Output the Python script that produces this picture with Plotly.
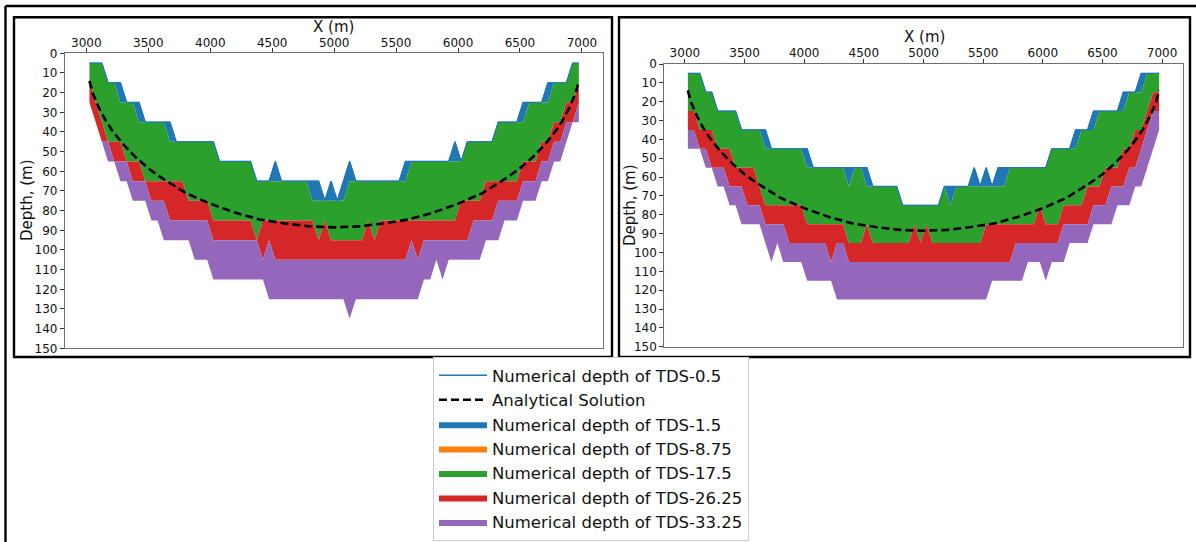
import plotly.graph_objects as go

# ---------------- data ----------------
# x positions of the model cell centres (m)
X_CELLS = list(range(3025, 7000, 50))

# Left panel: depth (m) of each TDS iso-line at every cell
L_TDS_0_5 = ([5]*3 + [15]*3 + [25]*3 + [35]*5 + [45]*7 + [55]*6 + [65]*3 + [55] + [65]*7 +
             [75] + [65] + [75] + [65] + [55] + [65]*8 + [55]*8 + [45] + [55] + [45]*5 +
             [35]*4 + [25]*4 + [15]*4 + [5]*2)
L_TDS_1_5 = ([5]*3 + [15]*2 + [25]*3 + [35]*5 + [45]*8 + [55]*6 + [65]*9 + [75]*6 +
             [65]*10 + [55]*9 + [45]*5 + [35]*5 + [25]*4 + [15]*3 + [5]*2)
L_TDS_8_75 = list(L_TDS_1_5)
L_TDS_17_5 = ([15] + [25] + [35] + [45]*3 + [55]*3 + [65]*7 + [75]*4 + [85]*7 + [95] + [85]*9 +
              [95] + [85] + [95]*6 + [85] + [95] + [85]*13 + [75]*4 + [65]*6 + [55]*3 +
              [45]*2 + [35]*2 + [25]*2 + [15])
L_TDS_26_25 = ([25] + [35] + [45]*2 + [55]*3 + [65]*3 + [75]*3 + [85]*7 + [95]*8 + [105] + [95] +
               [105]*22 + [95] + [105] + [95]*8 + [85]*4 + [75]*4 + [65]*3 + [55]*2 + [45]*2 +
               [35]*2 + [25])
L_TDS_33_25 = ([25] + [35] + [45] + [55]*2 + [65]*2 + [75]*3 + [85]*2 + [95]*5 + [105]*3 + [115]*9 +
               [125]*13 + [135] + [125]*11 + [115]*2 + [105] + [115] + [105]*6 + [95]*3 + [85]*3 +
               [75]*3 + [65]*2 + [55]*2 + [45] + [35]*2)

# Right panel
R_TDS_0_5 = ([5]*3 + [15]*2 + [25]*4 + [35]*5 + [45]*7 + [55]*10 + [65]*5 + [75]*7 + [65]*5 +
             [55] + [65] + [55] + [65] + [55]*9 + [45]*4 + [35]*3 + [25]*5 + [15]*3 + [5]*4)
R_TDS_1_5 = ([5]*3 + [15]*2 + [25]*4 + [35]*4 + [45]*7 + [55]*7 + [65] + [55]*2 + [65]*6 + [75]*7 +
             [65] + [75] + [65]*9 + [55]*7 + [45]*5 + [35]*3 + [25]*5 + [15]*3 + [5]*3)
R_TDS_8_75 = list(R_TDS_1_5)
R_TDS_17_5 = ([25]*2 + [35]*3 + [45]*3 + [55]*4 + [65] + [75]*7 + [85]*7 + [95]*3 + [85] + [95]*7 +
              [85] + [95] + [85] + [95]*9 + [85]*9 + [75] + [85]*3 + [75]*4 + [65]*3 + [55]*3 +
              [45]*2 + [35]*2 + [25] + [15]*2)
R_TDS_26_25 = ([35]*2 + [45]*2 + [55]*3 + [65]*3 + [75]*3 + [85]*4 + [95]*7 + [105] + [95]*2 +
               [105]*28 + [95]*8 + [85]*5 + [75]*3 + [65]*3 + [55]*2 + [45] + [35] + [25]*2)
R_TDS_33_25 = ([45]*3 + [55]*2 + [65]*2 + [75]*2 + [85]*4 + [95] + [105] + [95] + [105]*4 + [115]*5 +
               [125]*26 + [115]*6 + [105]*3 + [115] + [105]*3 + [95]*4 + [85]*4 + [75]*3 + [65]*2 +
               [55] + [45] + [35])

# Analytical solution
ANALYTICAL_X = [3025, 3050, 3100, 3150, 3200, 3300, 3400, 3500, 3600, 3800, 4000, 4200, 4400, 4600,
                4800, 5000, 5200, 5400, 5600, 5800, 6000, 6200, 6400, 6500, 6600, 6700, 6800,
                6850, 6900, 6950, 6975]
ANALYTICAL_DEPTH = [14, 20, 27.5, 33.5, 38.5, 46.5, 53, 58.5, 63, 71, 76.5, 81, 84.5, 86.5,
                    88, 88.5, 88, 86.5, 84.5, 81, 76.5, 71, 63, 58.5, 53, 46.5, 38.5,
                    33.5, 27.5, 20, 14]

X_TICKS = [3000, 3500, 4000, 4500, 5000, 5500, 6000, 6500, 7000]
Y_TICKS = list(range(0, 151, 10))

LABELS = ["Numerical depth of TDS-0.5", "Analytical Solution", "Numerical depth of TDS-1.5",
          "Numerical depth of TDS-8.75", "Numerical depth of TDS-17.5",
          "Numerical depth of TDS-26.25", "Numerical depth of TDS-33.25"]
COLORS = ["#1f77b4", "#ff7f0e", "#2ca02c", "#d62728", "#9467bd"]

for arr in (L_TDS_0_5, L_TDS_1_5, L_TDS_17_5, L_TDS_26_25, L_TDS_33_25,
            R_TDS_0_5, R_TDS_1_5, R_TDS_17_5, R_TDS_26_25, R_TDS_33_25):
    assert len(arr) == len(X_CELLS), len(arr)

# ---------------- figure ----------------
W, H = 1196, 542
FONT = "DejaVu Sans"
fig = go.Figure()


def panel(xa, ya, d05, d15, d875, d175, d2625, d3325, show):
    fig.add_trace(go.Scatter(x=X_CELLS, y=d05, mode="lines", xaxis=xa, yaxis=ya,
                             line=dict(color=COLORS[0], width=1.3), name=LABELS[0],
                             legendrank=1, showlegend=show, hoverinfo="skip"))
    fills = [(d15, COLORS[0], LABELS[2], 3), (d875, COLORS[1], LABELS[3], 4),
             (d175, COLORS[2], LABELS[4], 5), (d2625, COLORS[3], LABELS[5], 6),
             (d3325, COLORS[4], LABELS[6], 7)]
    for ys, c, nm, rk in fills:
        fig.add_trace(go.Scatter(x=X_CELLS, y=ys, mode="lines", xaxis=xa, yaxis=ya,
                                 fill="tonexty", fillcolor=c, line=dict(color=c, width=0),
                                 name=nm, legendrank=rk, showlegend=show, hoverinfo="skip"))
    fig.add_trace(go.Scatter(x=ANALYTICAL_X, y=ANALYTICAL_DEPTH, mode="lines", xaxis=xa, yaxis=ya,
                             line=dict(color="black", width=2.6, dash="8px,4px"),
                             name=LABELS[1], legendrank=2, showlegend=show, hoverinfo="skip"))
    fig.add_trace(go.Scatter(x=X_CELLS, y=d05, mode="lines", xaxis=xa, yaxis=ya,
                             line=dict(color=COLORS[0], width=1), showlegend=False,
                             hoverinfo="skip"))


panel("x", "y", L_TDS_0_5, L_TDS_1_5, L_TDS_8_75, L_TDS_17_5, L_TDS_26_25, L_TDS_33_25, True)
panel("x2", "y2", R_TDS_0_5, R_TDS_1_5, R_TDS_8_75, R_TDS_17_5, R_TDS_26_25, R_TDS_33_25, False)


def px_x(p):
    return p / W


def px_y(p):
    return 1 - p / H


axis_common = dict(showgrid=False, zeroline=False, showline=True, mirror=True,
                   linecolor="#6e6e6e", linewidth=1.2, ticks="outside", ticklen=4,
                   tickcolor="#333", tickwidth=1, automargin=False,
                   tickfont=dict(family=FONT, size=12, color="#111"))

fig.update_layout(
    width=W, height=H, margin=dict(l=0, r=0, t=0, b=0, pad=0, autoexpand=False),
    paper_bgcolor="white", plot_bgcolor="white",
    xaxis=dict(domain=[px_x(65), px_x(603.3)], range=[2827.5, 7172.5], side="top",
               tickvals=X_TICKS, anchor="y", ticklabelstandoff=-4, **axis_common),
    yaxis=dict(domain=[px_y(348.3), px_y(53.3)], range=[150, 0], tickvals=Y_TICKS,
               anchor="x", **axis_common),
    xaxis2=dict(domain=[px_x(664.3), px_x(1182.7)], range=[2827.5, 7172.5], side="top",
                tickvals=X_TICKS, anchor="y2", ticklabelstandoff=-3, **axis_common),
    yaxis2=dict(domain=[px_y(346.7), px_y(64)], range=[150, 0], tickvals=Y_TICKS,
                anchor="x2", **axis_common),
    showlegend=True,
    legend=dict(x=px_x(433), y=px_y(357), xanchor="left", yanchor="top",
                bgcolor="white", bordercolor="#cccccc", borderwidth=1,
                font=dict(family=FONT, size=16.5, color="#111"),
                traceorder="normal", itemwidth=48, tracegroupgap=0),
    font=dict(family=FONT),
)

annotations = [
    dict(x=px_x(333), y=px_y(37), text="X (m)", yanchor="bottom"),
    dict(x=px_x(924), y=px_y(47), text="X (m)", yanchor="bottom"),
    dict(x=px_x(27), y=px_y(200), text="Depth, (m)", textangle=-90, yanchor="middle"),
    dict(x=px_x(630), y=px_y(205), text="Depth, (m)", textangle=-90, yanchor="middle"),
]
for a in annotations:
    fig.add_annotation(xref="paper", yref="paper", showarrow=False, borderpad=0,
                       font=dict(family=FONT, size=15, color="#111"),
                       xanchor="center", **a)

shapes = [
    dict(type="rect", x0=px_x(14), x1=px_x(612), y0=px_y(357), y1=px_y(17.3)),
    dict(type="rect", x0=px_x(619), x1=px_x(1190), y0=px_y(357), y1=px_y(17.3)),
    dict(type="line", x0=px_x(5.5), x1=px_x(1200), y0=px_y(6), y1=px_y(6)),
    dict(type="line", x0=px_x(5.5), x1=px_x(5.5), y0=px_y(6), y1=px_y(545)),
]
for s in shapes:
    fig.add_shape(xref="paper", yref="paper", line=dict(color="black", width=2.4), **s)

fig.write_html("out.html", config={"displayModeBar": False})
